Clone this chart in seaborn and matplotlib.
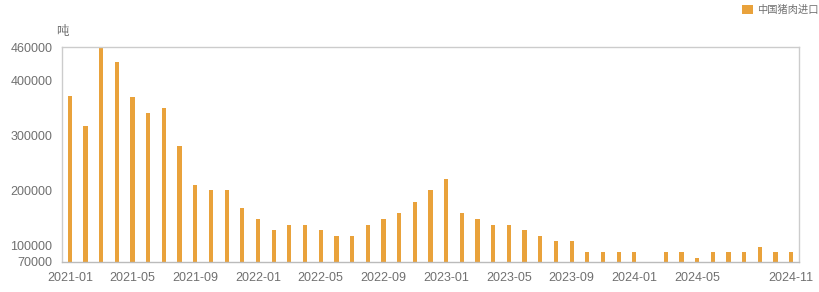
import matplotlib
matplotlib.use("Agg")
import matplotlib.pyplot as plt
import seaborn as sns
import pandas as pd
import numpy as np
from matplotlib.patches import Patch

months = pd.period_range("2021-01", "2024-11", freq="M").strftime("%Y-%m").tolist()
values = [372000, 316000, 460000, 432000, 370000, 340000, 350000, 280000,
          210000, 200000, 200000, 168000, 148000, 128000, 138000, 138000,
          128000, 118000, 118000, 138000, 148000, 158000, 178000, 200000,
          220000, 158000, 148000, 138000, 138000, 128000, 118000, 108000,
          108000, 88000, 88000, 88000, 88000, np.nan, 88000, 88000,
          77000, 88000, 88000, 88000, 98000, 88000, 88000]
series_name = "中国猪肉进口"
xtick_labels = ["2021-01", "2021-05", "2021-09", "2022-01", "2022-05", "2022-09",
                "2023-01", "2023-05", "2023-09", "2024-01", "2024-05", "2024-11"]
yticks = [70000, 100000, 200000, 300000, 400000, 460000]
unit = "吨"

df = pd.DataFrame({"month": months, "value": values, "series": series_name})

sns.set_theme(style="white")
plt.rcParams["font.family"] = ["Liberation Sans", "Noto Sans CJK SC", "DejaVu Sans"]

fig = plt.figure(figsize=(8.19, 2.92), dpi=100)
ax = fig.add_axes([62/819, 30/292, 737/819, 215/292])

color = "#E9A23B"
sns.barplot(data=df, x="month", y="value", hue="series", order=months,
            palette=[color], width=0.27, saturation=1, linewidth=0,
            ax=ax, legend=False)

ax.set_xlim(-0.5, len(months) - 0.5)
ax.set_ylim(70000, 460000)
ax.set_yticks(yticks)
ax.set_yticklabels([str(t) for t in yticks])
pos = [months.index(m) for m in xtick_labels]
ax.set_xticks(pos)
ax.set_xticklabels(xtick_labels)
ax.set_xlabel("")
ax.set_ylabel("")
ax.tick_params(axis="both", length=0, labelsize=9, colors="#707070")
ax.tick_params(axis="x", pad=7)
ax.tick_params(axis="y", pad=7)

for s in ["top", "right", "left", "bottom"]:
    ax.spines[s].set_visible(True)
    ax.spines[s].set_color("#cccccc")
    ax.spines[s].set_linewidth(1.0)
ax.spines["bottom"].set_color("#bbbbbb")

fig.text(56/819, 1 - 32/292, unit, fontsize=9, color="#707070", va="center", ha="left")

handles = [Patch(facecolor=color, edgecolor="none", label=series_name)]
leg = fig.legend(handles=handles, loc="upper right", bbox_to_anchor=(1.0, 1 - 5/292),
                 frameon=False, fontsize=7.4, handlelength=1.05, handleheight=1.0,
                 handletextpad=0.45, borderaxespad=0, borderpad=0)
for t in leg.get_texts():
    t.set_color("#707070")

fig.savefig("out.png", dpi=100)
